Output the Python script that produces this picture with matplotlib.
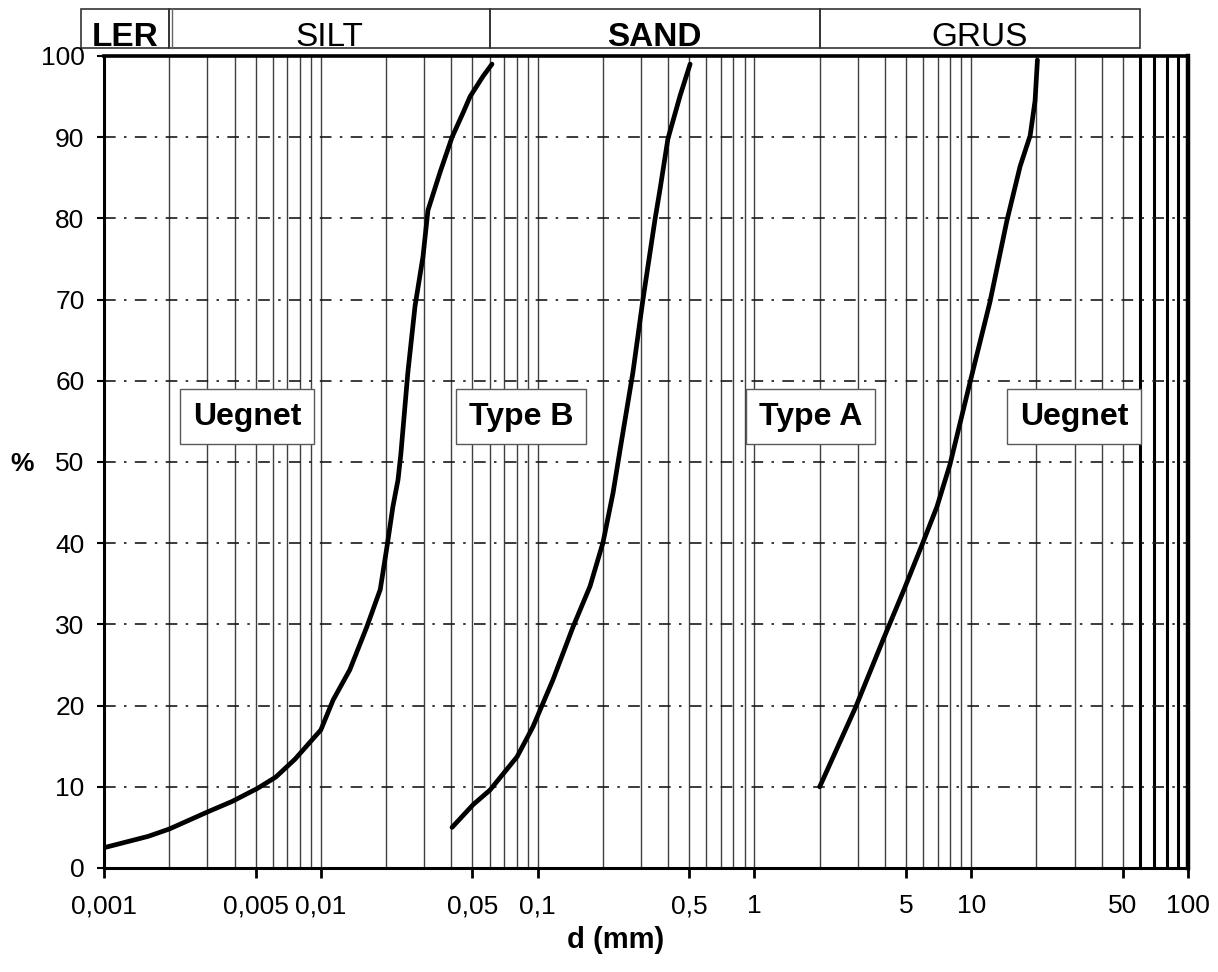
import numpy as np
import matplotlib
matplotlib.use('Agg')
import matplotlib.pyplot as plt
from matplotlib.patches import Rectangle
from matplotlib.transforms import blended_transform_factory
from matplotlib.ticker import NullFormatter

plt.rcParams['font.family'] = ['Liberation Sans', 'DejaVu Sans']

# grain size curves, d in mm, passing in %
fine_d = [0.001, 0.0016, 0.002, 0.003, 0.0039, 0.0051, 0.0062, 0.0076,
          0.01, 0.0114, 0.0136, 0.0163, 0.0188, 0.0202, 0.0215, 0.0227, 0.0234,
          0.0252, 0.0272, 0.0296, 0.0312, 0.0355, 0.0403, 0.0453, 0.0488, 0.056, 0.0616]
fine_p = [2.5, 3.9, 4.8, 6.9, 8.2, 9.8, 11.2, 13.4,
          17.0, 20.7, 24.4, 29.7, 34.3, 39.6, 44.5, 47.8, 51.0,
          61.0, 69.2, 75.3, 81.0, 85.7, 90.0, 93.0, 95.0, 97.5, 99.0]

mid_d = [0.0403, 0.0504, 0.0603, 0.0804, 0.0952, 0.1178, 0.1457, 0.1745, 0.2003,
         0.2228, 0.240, 0.275, 0.306, 0.348, 0.367, 0.399, 0.454, 0.505]
mid_p = [5.0, 7.8, 9.6, 13.7, 17.4, 23.2, 29.7, 34.7, 40.1,
         46.2, 51.5, 61.0, 70.0, 79.9, 83.6, 89.8, 95.1, 99.0]

coarse_d = [2.0, 2.94, 3.92, 4.9, 5.93, 6.95, 7.98, 9.87, 12.2, 14.6, 16.8, 18.7, 19.7, 20.2]
coarse_p = [10.0, 19.9, 28.1, 34.3, 39.8, 44.5, 49.7, 59.8, 69.7, 79.7, 86.4, 90.2, 94.5, 99.5]

# soil classes (upper limits in mm)
class_names = ['LER', 'SILT', 'SAND', 'GRUS']
class_limits = [0.002, 0.06, 2, 60]

zone_names = ['Uegnet', 'Type B', 'Type A', 'Uegnet']
zone_x = [0.00457, 0.0837, 1.82, 29.8]

x_ticks = [0.001, 0.005, 0.01, 0.05, 0.1, 0.5, 1, 5, 10, 50, 100]
x_labels = ['0,001', '0,005', '0,01', '0,05', '0,1', '0,5', '1', '5', '10', '50', '100']
y_ticks = list(range(0, 101, 10))

fig = plt.figure(figsize=(12.18, 9.72), dpi=100)
ax = fig.add_axes([0.0854, 0.1070, 0.8900, 0.8354])
ax.set_xscale('log')
ax.set_xlim(0.001, 100)
ax.set_ylim(0, 100)

# log paper grid
for dec in [0.001, 0.01, 0.1, 1, 10]:
    for m in range(1, 10):
        v = m * dec
        if v <= 0.001:
            continue
        if v >= 60:
            ax.axvline(v, color='black', lw=2.2, zorder=1)
        else:
            ax.axvline(v, color='0.25', lw=1.0, zorder=1)
for p in range(10, 100, 10):
    ax.axhline(p, color='0.1', lw=1.2, ls=(0, (7, 5, 1.5, 5)), zorder=1)

ax.plot(fine_d, fine_p, color='black', lw=3.4, zorder=4, solid_capstyle='round')
ax.plot(mid_d, mid_p, color='black', lw=3.4, zorder=4, solid_capstyle='round')
ax.plot(coarse_d, coarse_p, color='black', lw=3.4, zorder=4, solid_capstyle='round')

for name, xv in zip(zone_names, zone_x):
    ax.text(xv, 55.6, name, ha='center', va='center', fontsize=23, fontweight='bold',
            zorder=5, bbox=dict(boxstyle='square,pad=0.4', fc='white', ec='0.35', lw=1.0))

# header with soil classes
trans = blended_transform_factory(ax.transData, ax.transAxes)
edges = [10 ** (np.log10(0.001) - 0.106)] + class_limits
for i, name in enumerate(class_names):
    l, r = edges[i], edges[i + 1]
    ax.add_patch(Rectangle((l, 1.0099), r - l, 0.048, transform=trans, fill=False,
                           ec='0.2', lw=1.2, clip_on=False))
    ax.text(np.sqrt(l * r), 1.0125, name, transform=trans, ha='center', va='baseline',
            fontsize=24, fontweight='bold' if name in ('LER', 'SAND') else 'normal')
ax.plot([0.00205, 0.00205], [1.0099, 1.0579], transform=trans, color='0.4', lw=1, clip_on=False)

for s in ['left', 'bottom']:
    ax.spines[s].set_linewidth(2.2)
ax.spines['top'].set_linewidth(2.6)
ax.spines['right'].set_linewidth(3.2)

ax.set_xticks(x_ticks, labels=x_labels)
ax.set_xticks([0.005, 0.05, 0.5, 5, 50], minor=True)
ax.xaxis.set_minor_formatter(NullFormatter())
ax.tick_params(axis='x', which='major', length=7, width=2, pad=12, labelsize=19)
ax.tick_params(axis='x', which='minor', length=14, width=2)
ax.set_yticks(y_ticks)
ax.tick_params(axis='y', length=5, width=1.5, pad=9, labelsize=19)

fig.text(22 / 1218, 1 - 464 / 972, '%', fontsize=19, fontweight='bold', ha='center', va='center')
fig.text(616 / 1218, 1 - 940 / 972, 'd (mm)', fontsize=21, fontweight='bold', ha='center', va='center')

fig.savefig('out.png', dpi=100)
